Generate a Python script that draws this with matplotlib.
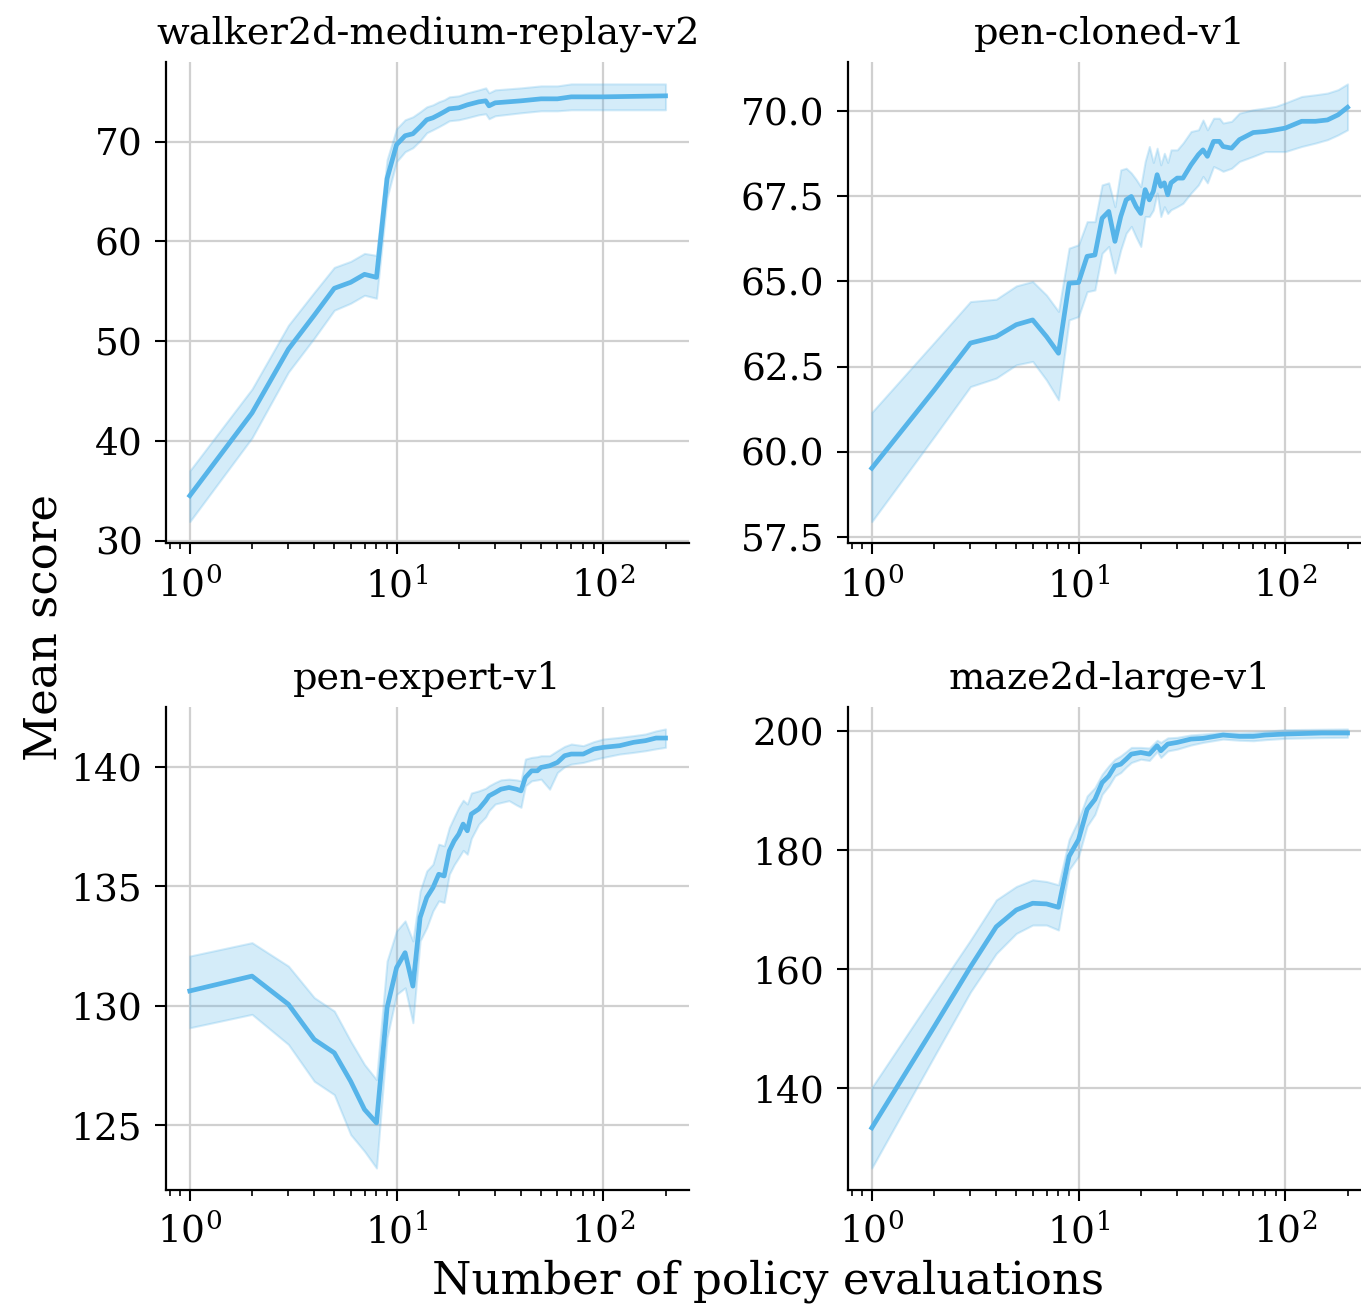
import numpy as np
import matplotlib
matplotlib.use("Agg")
import matplotlib.pyplot as plt
from matplotlib.ticker import LogLocator, NullFormatter

plt.rcParams['font.family'] = ['DejaVu Serif']
plt.rcParams['mathtext.fontset'] = 'cm'

COLOR = '#56B4E9'

titles = ["walker2d-medium-replay-v2", "pen-cloned-v1", "pen-expert-v1", "maze2d-large-v1"]

# walker2d-medium-replay-v2
walker_x = [1, 2, 3, 4, 5, 6, 7, 8, 9, 10, 11, 12, 13, 14, 15, 16, 17, 18, 20, 22, 25, 27, 28, 30, 40, 50, 60, 70, 100, 200]
walker_mean = [34.5, 42.8, 49.2, 52.6, 55.3, 55.9, 56.7, 56.4, 66.3, 69.7, 70.6, 70.8, 71.5, 72.2, 72.4, 72.7, 73.0, 73.3, 73.4, 73.7, 74.0, 74.1, 73.6, 73.9, 74.1, 74.3, 74.3, 74.5, 74.5, 74.6]
walker_lo = [31.9, 40.3, 46.9, 50.3, 53.1, 53.8, 54.6, 54.3, 64.4, 68.0, 69.0, 69.4, 70.1, 70.9, 71.2, 71.5, 71.8, 72.1, 72.2, 72.4, 72.7, 72.8, 72.3, 72.6, 72.9, 73.1, 73.1, 73.2, 73.2, 73.2]
walker_hi = [37.0, 45.2, 51.6, 54.9, 57.4, 58.0, 58.8, 58.6, 68.2, 71.3, 72.2, 72.5, 73.0, 73.5, 73.7, 74.0, 74.2, 74.5, 74.6, 74.9, 75.2, 75.4, 74.9, 75.2, 75.4, 75.6, 75.6, 75.8, 75.8, 75.8]

# pen-cloned-v1
cloned_x = [1, 2, 3, 4, 5, 6, 7, 8, 9, 10, 11, 12, 13, 14, 15, 16, 17, 18, 19, 20, 21, 22, 23, 24, 25, 26, 27, 28, 30, 32, 35, 38, 40, 42, 45, 48, 50, 55, 60, 70, 80, 90, 100, 120, 140, 160, 180, 200]
cloned_mean = [59.51, 61.8, 63.19, 63.38, 63.73, 63.87, 63.38, 62.89, 64.95, 64.97, 65.74, 65.78, 66.86, 67.06, 66.18, 66.91, 67.40, 67.5, 67.2, 67.0, 67.7, 67.4, 67.65, 68.14, 67.8, 67.9, 67.55, 67.9, 68.04, 68.04, 68.43, 68.73, 68.87, 68.68, 69.12, 69.12, 68.97, 68.92, 69.17, 69.38, 69.41, 69.46, 69.51, 69.71, 69.71, 69.75, 69.9, 70.12]
cloned_lo = [57.94, 60.43, 61.91, 62.16, 62.55, 62.65, 62.1, 61.52, 63.87, 63.97, 64.7, 64.75, 65.83, 66.03, 65.25, 65.93, 66.42, 66.62, 66.3, 66.03, 66.91, 66.91, 67.1, 67.6, 66.91, 67.2, 67.0, 67.11, 67.2, 67.3, 67.6, 67.84, 68.09, 67.9, 68.38, 68.3, 68.24, 68.33, 68.53, 68.68, 68.82, 68.82, 68.82, 68.97, 69.07, 69.17, 69.31, 69.46]
cloned_hi = [61.15, 63.2, 64.41, 64.48, 64.87, 65.0, 64.6, 64.12, 65.98, 66.08, 66.76, 66.76, 67.84, 67.9, 67.2, 68.28, 68.33, 68.19, 68.0, 67.79, 68.53, 68.97, 68.5, 68.92, 68.43, 68.77, 68.5, 68.87, 68.87, 69.07, 69.41, 69.46, 69.75, 69.46, 69.8, 69.8, 69.66, 69.71, 69.95, 70.05, 70.1, 70.15, 70.25, 70.44, 70.49, 70.54, 70.64, 70.81]

# pen-expert-v1
expert_x = [1, 2, 3, 4, 5, 6, 7, 8, 9, 10, 11, 12, 13, 14, 15, 16, 17, 18, 19, 20, 21, 22, 23, 25, 27, 28, 30, 32, 35, 38, 40, 42, 45, 48, 50, 55, 60, 65, 70, 80, 90, 100, 120, 140, 160, 180, 200]
expert_mean = [130.62, 131.24, 130.06, 128.59, 128.03, 126.84, 125.66, 125.1, 129.92, 131.59, 132.22, 130.82, 133.69, 134.53, 134.94, 135.5, 135.43, 136.48, 136.9, 137.18, 137.6, 137.32, 138.02, 138.23, 138.58, 138.78, 138.92, 139.06, 139.13, 139.06, 138.99, 139.55, 139.83, 139.83, 139.97, 140.04, 140.18, 140.46, 140.53, 140.53, 140.74, 140.81, 140.88, 141.02, 141.09, 141.2, 141.2]
expert_lo = [129.08, 129.64, 128.38, 126.84, 126.28, 124.61, 123.91, 123.21, 128.66, 130.47, 130.75, 129.29, 132.71, 133.27, 133.97, 134.39, 134.32, 135.5, 135.9, 136.2, 136.5, 136.34, 137.0, 137.6, 137.9, 138.16, 138.44, 138.5, 138.58, 138.4, 138.3, 139.2, 139.41, 139.45, 139.48, 139.06, 139.76, 140.0, 140.11, 140.18, 140.3, 140.39, 140.53, 140.6, 140.67, 140.75, 140.81]
expert_hi = [132.08, 132.64, 131.66, 130.34, 129.78, 128.52, 127.54, 126.91, 131.87, 133.13, 133.55, 132.71, 134.8, 135.64, 135.92, 136.76, 136.69, 137.46, 137.9, 138.3, 138.6, 138.44, 138.9, 138.99, 139.1, 139.2, 139.34, 139.45, 139.48, 139.45, 139.41, 140.32, 140.39, 140.42, 140.46, 140.46, 140.67, 140.85, 140.95, 140.88, 141.05, 141.16, 141.23, 141.3, 141.37, 141.5, 141.58]

# maze2d-large-v1
maze_x = [1, 2, 3, 4, 5, 6, 7, 8, 9, 10, 11, 12, 13, 14, 15, 16, 17, 18, 20, 22, 24, 25, 27, 30, 35, 40, 50, 60, 70, 80, 100, 150, 200]
maze_mean = [133.35, 150.3, 160.39, 167.15, 169.97, 171.1, 170.99, 170.42, 178.99, 181.8, 186.87, 188.56, 191.38, 192.5, 194.2, 194.48, 195.32, 196.17, 196.45, 196.17, 197.58, 196.73, 197.86, 198.14, 198.7, 198.82, 199.38, 199.15, 199.15, 199.38, 199.55, 199.72, 199.72]
maze_lo = [126.59, 145.3, 156.17, 162.65, 166.03, 167.44, 167.44, 166.6, 176.73, 178.99, 184.06, 186.03, 189.41, 190.82, 192.51, 193.07, 194.0, 194.76, 195.32, 195.1, 196.6, 195.6, 196.7, 197.01, 197.7, 198.14, 198.7, 198.5, 198.42, 198.6, 198.82, 198.95, 198.99]
maze_hi = [140.11, 155.8, 164.9, 171.66, 173.92, 175.04, 174.76, 174.2, 181.8, 185.18, 189.13, 190.54, 192.79, 194.2, 195.32, 195.89, 196.6, 197.3, 197.3, 197.2, 198.5, 198.14, 198.9, 198.99, 199.4, 199.55, 199.83, 199.75, 199.83, 200.0, 200.28, 200.35, 200.4]

series = [
    (walker_x, walker_mean, walker_lo, walker_hi),
    (cloned_x, cloned_mean, cloned_lo, cloned_hi),
    (expert_x, expert_mean, expert_lo, expert_hi),
    (maze_x, maze_mean, maze_lo, maze_hi),
]
yticks = [
    [30, 40, 50, 60, 70],
    [57.5, 60.0, 62.5, 65.0, 67.5, 70.0],
    [125, 130, 135, 140],
    [140, 160, 180, 200],
]
ytick_fmt = ["{:.0f}", "{:.1f}", "{:.0f}", "{:.0f}"]

W, H = 1361, 1310
fig = plt.figure(figsize=(W / 100, H / 100), dpi=100)

ax_w = 523.3 / W
positions = [
    (166 / W, 1 - 543.5 / H, ax_w, 481.5 / H),
    (848 / W, 1 - 543.5 / H, ax_w, 481.5 / H),
    (166 / W, 1 - 1190 / H, ax_w, 483 / H),
    (848 / W, 1 - 1190 / H, ax_w, 483 / H),
]

for i, (pos, (x, m, lo, hi)) in enumerate(zip(positions, series)):
    ax = fig.add_axes(pos)
    ax.set_xscale('log')
    ax.fill_between(x, lo, hi, color=COLOR, alpha=0.25, linewidth=1.5, zorder=2)
    ax.plot(x, m, color=COLOR, linewidth=3.4, zorder=3)
    ax.set_yticks(yticks[i])
    ax.set_yticklabels([ytick_fmt[i].format(v) for v in yticks[i]])
    ax.xaxis.set_major_locator(LogLocator(base=10, numticks=10))
    ax.xaxis.set_minor_locator(LogLocator(base=10, subs=np.arange(2, 10), numticks=20))
    ax.xaxis.set_minor_formatter(NullFormatter())
    ax.grid(True, which='major', color='#d0d0d0', linewidth=1.6, zorder=0)
    ax.set_axisbelow(True)
    for s in ['top', 'right']:
        ax.spines[s].set_visible(False)
    for s in ['left', 'bottom']:
        ax.spines[s].set_linewidth(1.6)
    ax.tick_params(axis='both', which='major', labelsize=27, length=8, width=1.5, pad=9)
    ax.tick_params(axis='x', which='minor', length=4.5, width=1.2)
    ax.set_title(titles[i], fontsize=27.5, pad=13)
    lo_all = min(lo); hi_all = max(hi)
    r = hi_all - lo_all
    ax.set_ylim(lo_all - 0.05 * r, hi_all + 0.05 * r)
    lx0, lx1 = np.log10(min(x)), np.log10(max(x))
    rx = lx1 - lx0
    ax.set_xlim(10 ** (lx0 - 0.05 * rx), 10 ** (lx1 + 0.05 * rx))

fig.text(0.5645, 1 - 1281 / H, "Number of policy evaluations", ha='center', va='center', fontsize=32.5)
fig.text(44 / W, 1 - 627 / H, "Mean score", ha='center', va='center', rotation=90, fontsize=32.5)

fig.savefig("out.png", dpi=100)
